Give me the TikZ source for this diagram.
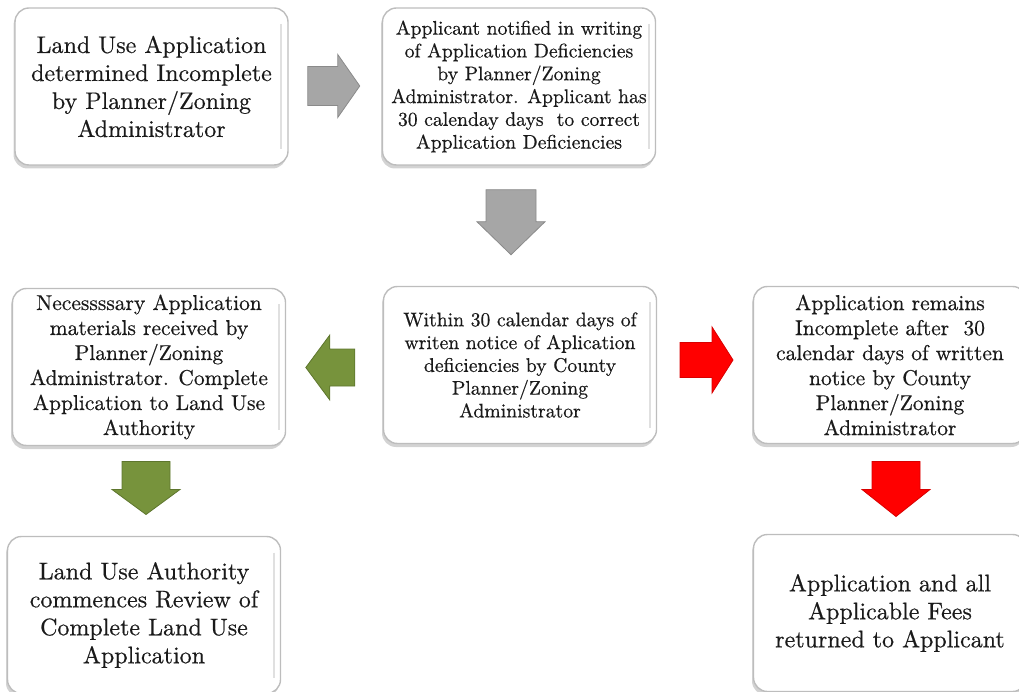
\documentclass[tikz,border=0pt]{standalone}
\usepackage{fontspec}
\setmainfont{lmroman10-regular}[Extension=.otf, FakeBold=0.5]
\usetikzlibrary{shadows,calc}
\definecolor{boxedge}{HTML}{BDBDBD}
\definecolor{txt}{HTML}{1A1A1A}
\definecolor{grayarrow}{HTML}{A6A6A6}
\definecolor{grayarrowedge}{HTML}{8A8A8A}
\definecolor{greenarrow}{HTML}{77933C}
\definecolor{greenarrowedge}{HTML}{5E762E}
\definecolor{redarrow}{HTML}{FF0000}
\definecolor{redarrowedge}{HTML}{D80000}
\tikzset{
  stepbox/.style={draw=boxedge, line width=1.4pt, fill=white, rounded corners=14pt,
    minimum width=273pt, minimum height=157pt, inner sep=0pt, align=center, text=txt,
    drop shadow={shadow xshift=-1.5pt, shadow yshift=-3.5pt, opacity=0.35},
    path picture={\draw[black!12, line width=2pt]
      ([xshift=-7pt,yshift=-16pt]path picture bounding box.north east) --
      ([xshift=-7pt,yshift=16pt]path picture bounding box.south east);}},
  bigtext/.style={font=\fontsize{24}{28}\selectfont},
  midtext/.style={font=\fontsize{19.7}{22.8}\selectfont},
  medtext/.style={font=\fontsize{21.5}{25}\selectfont},
  pics/blkarrow/.style n args={4}{code={
    % #1 length, #2 head width, #3 shaft width, #4 head length
    \path[pic actions, line width=0.8pt, line join=miter]
      (-#1/2,-#3/2) -- ({#1/2-#4},-#3/2) -- ({#1/2-#4},-#2/2) -- (#1/2,0)
      -- ({#1/2-#4},#2/2) -- ({#1/2-#4},#3/2) -- (-#1/2,#3/2) -- cycle;}},
  grayblock/.style={fill=grayarrow, draw=grayarrowedge},
  greenblock/.style={fill=greenarrow, draw=greenarrowedge},
  redblock/.style={fill=redarrow, draw=redarrowedge},
}
\begin{document}
\begin{tikzpicture}[x=1pt,y=-1pt]
\useasboundingbox (0,0) rectangle (1019,692);
\begin{scope}
\clip (0,0) rectangle (1019,692);
\node[stepbox, bigtext] (A) at (151.5,86.5) {Land Use Application\\determined Incomplete\\by Planner/Zoning\\Administrator};
\node[stepbox, midtext] (B) at (519,86.5) {Applicant notified in writing\\of Application Deficiencies\\by Planner/Zoning\\Administrator. Applicant has\\30 calenday days\ \ to correct\\Application Deficiencies};
\node[stepbox, midtext] (C) at (520,365) {Within 30 calendar days of\\writen notice of Aplication\\deficiencies by County\\Planner/Zoning\\Administrator};
\node[stepbox, medtext] (D) at (149,367) {Necessssary Application\\materials received by\\Planner/Zoning\\Administrator. Complete\\Application to Land Use\\Authority};
\node[stepbox, medtext] (E) at (890,365) {Application remains\\Incomplete after\ \ 30\\calendar days of written\\notice by County\\Planner/Zoning\\Administrator};
\node[stepbox, bigtext] (F) at (144,615) {Land Use Authority\\commences Review of\\Complete Land Use\\Application};
\node[stepbox, bigtext] (G) at (890,613) {Application and all\\Applicable Fees\\returned to Applicant};

\pic[grayblock] at ($(A.east)!0.5!(B.west)+(-1.5,-0.5)$) {blkarrow={52}{63}{39}{22}};
\pic[grayblock, rotate=-90] at ($(B.south)!0.5!(C.north)+(-8.5,-3.5)$) {blkarrow={65}{68}{50}{33}};
\pic[greenblock, rotate=180] at ($(C.west)!0.5!(D.east)+(-4.2,1.5)$) {blkarrow={49}{65}{37}{24}};
\pic[redblock] at ($(C.east)!0.5!(E.west)+(1.5,-5)$) {blkarrow={53}{66}{35}{21}};
\pic[greenblock, rotate=-90] at ($(D.south)!0.5!(F.north)+(-0.5,-3)$) {blkarrow={53}{68}{48}{25}};
\pic[redblock, rotate=-90] at ($(E.south)!0.5!(G.north)+(6,0)$) {blkarrow={55}{68}{48}{27}};
\end{scope}
\end{tikzpicture}
\end{document}
